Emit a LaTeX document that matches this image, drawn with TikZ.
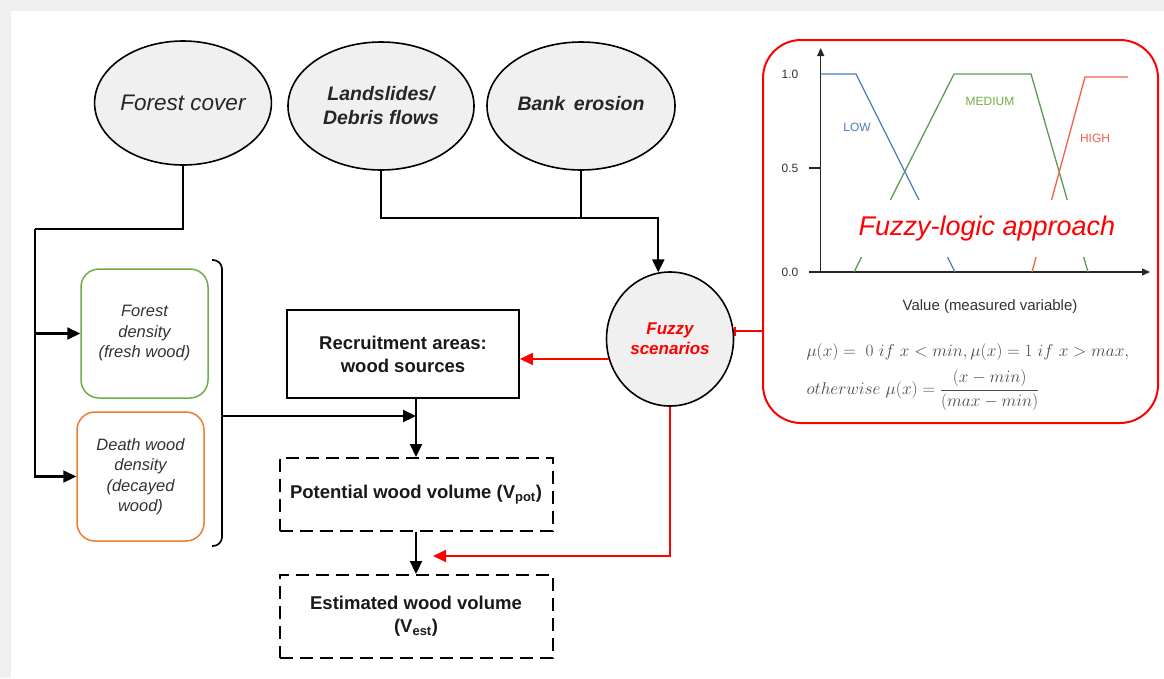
\documentclass[tikz,border=0pt]{standalone}
\usepackage[no-math]{fontspec}
\setmainfont{Liberation Sans}
\usepackage{amsmath}
\usepackage{tikz}
\usetikzlibrary{arrows.meta,shapes.geometric}

\definecolor{leafgreen}{HTML}{70AD47}
\definecolor{barkorange}{HTML}{ED7D31}
\definecolor{lowblue}{HTML}{4A7EBB}
\definecolor{medgreen}{HTML}{5B9B55}
\definecolor{highred}{HTML}{F0604D}
\newcommand{\fsz}[2]{\fontsize{#1}{#2}\selectfont}

\begin{document}
\begin{tikzpicture}[x=1pt,y=-1pt,
  src/.style={ellipse,draw,line width=1.6pt,fill=black!6,inner sep=0pt,align=center,text=black!85},
  dens/.style={draw,rounded corners=18pt,line width=1.5pt,minimum width=127pt,minimum height=129pt,align=center,font=\fsz{16.5}{20.5}\itshape,text=black!80},
  proc/.style={draw,line width=1.8pt,minimum width=232pt,minimum height=88pt,align=center,font=\fsz{18.5}{23}\bfseries,text=black!90},
  vol/.style={draw,line width=2pt,dash pattern=on 13pt off 7pt,minimum width=273pt,align=center,font=\fsz{18.5}{23}\bfseries,text=black!90},
  wire/.style={line width=2.2pt},
  arr/.style={wire,-{Triangle[length=13pt,width=12pt]}},
  redarr/.style={red,line width=1.9pt,-{Triangle[length=13pt,width=12pt]}},
  memb/.style={line width=1.3pt}]
\useasboundingbox (0,0) rectangle (1164,678);
\fill[black!6] (0,0) rectangle (1164,678);
\fill[white] (11,11) rectangle (1164,678);

\node[src,minimum width=173pt,minimum height=124pt,font=\fsz{22.5}{26}\itshape] (cover) at (183,103) {Forest cover};
\node[src,minimum width=186pt,minimum height=128pt,font=\fsz{19.5}{24}\bfseries\itshape] (slides) at (381,106) {Landslides/\\Debris flows};
\node[src,minimum width=188pt,minimum height=128pt,font=\fsz{19.5}{24}\bfseries\itshape] (bank) at (581,106) {\raisebox{6pt}{Bank\hspace{0.45em}erosion}};
\node[src,minimum width=127pt,minimum height=134pt,text=red,font=\fsz{17}{20}\bfseries\itshape] (fuzzy) at (670,339) {Fuzzy\\scenarios};

\node[dens,draw=leafgreen] (fresh) at (144.5,333.5) {Forest\\density\\(fresh wood)};
\node[dens,draw=barkorange] (dead) at (140.5,476.5) {Death wood\\density\\(decayed\\wood)};
\node[proc] (recruit) at (403,354) {Recruitment areas:\\wood sources};
\node[vol,minimum height=73pt] (pot) at (416,494.5) {Potential wood volume (V\textsubscript{pot})};
\node[vol,minimum height=83pt] (est) at (416,616.5) {Estimated wood volume\\(V\textsubscript{est})};

\node[draw=red,line width=2pt,rounded corners=38pt,minimum width=395pt,minimum height=383pt] (panel) at (960.5,231.5) {};
\draw[black!85,line width=1.4pt,-{Triangle[length=8pt,width=7pt]}] (809,272) -- (1150,272);
\draw[black!85,line width=1.4pt,-{Triangle[length=8pt,width=7pt]}] (820.7,272) -- (820.7,48);
\draw[black!85,line width=1.4pt] (809,168) -- (820.7,168);
\foreach \v/\y in {1.0/74,0.5/168,0.0/272}
  \node[font=\fsz{12}{12},text=black!80] at (790,\y) {\v};
\draw[lowblue,memb] (820.7,74) -- (856,74) -- (955,272);
\draw[medgreen,memb] (854,272) -- (954,74) -- (1031,74) -- (1088,272);
\draw[highred,memb] (1032,272) -- (1085,77) -- (1128,77);
\node[font=\fsz{12}{12},text=lowblue] (low) at (857,127) {LOW};
\node[font=\fsz{12}{12},text=leafgreen] (med) at (990,101) {MEDIUM};
\node[font=\fsz{12}{12},text=highred] (high) at (1095,138) {HIGH};
\node[fill=white,minimum width=266pt,minimum height=57pt,text=red,font=\fsz{27}{30}\itshape] (approach) at (987,228.5) {Fuzzy-logic approach};
\node[font=\fsz{15}{18},text=black!80] (xlabel) at (990,307) {Value (measured variable)};
\node[anchor=west,text=black!70,font=\fsz{18.5}{22}] (rule1) at (803,352) {$\mu(x) =\ 0\ if\ x < min, \mu(x) = 1\ if\ x > max,$};
\node[anchor=west,text=black!70,font=\fsz{18.5}{22}] (rule2) at (803,390) {$otherwise\ \mu(x) = \dfrac{(x - min)}{(max - min)}$};

\coordinate (split) at (35,229);
\draw[wire] (cover.south) |- (split);
\draw[arr] (split) |- (fresh.west);
\draw[arr] (split) |- (dead.west);

\coordinate (hub) at (581,218);
\draw[wire] (slides.south) |- (hub);
\draw[wire] (bank.south) -- (hub);
\draw[arr] (hub) -| (fuzzy.100);

\draw[wire,line width=1.7pt,rounded corners=9pt] (212,260) -| (222,546) -- (212,546);
\coordinate (brace) at (222,416);
\draw[arr] (brace) -- (brace -| pot.north);
\draw[arr] (recruit.south -| pot.north) -- (pot.north);
\draw[arr] (pot.south) -- (est.north);

\draw[redarr] (fuzzy.198) -- (fuzzy.198 -| recruit.east);
\draw[red,line width=1.9pt,-{Bar[width=9pt]}] (panel.west |- fuzzy.7) -- (fuzzy.7);
\coordinate (vin) at (433,556);
\draw[redarr] (fuzzy.south) |- (vin);
\end{tikzpicture}
\end{document}
